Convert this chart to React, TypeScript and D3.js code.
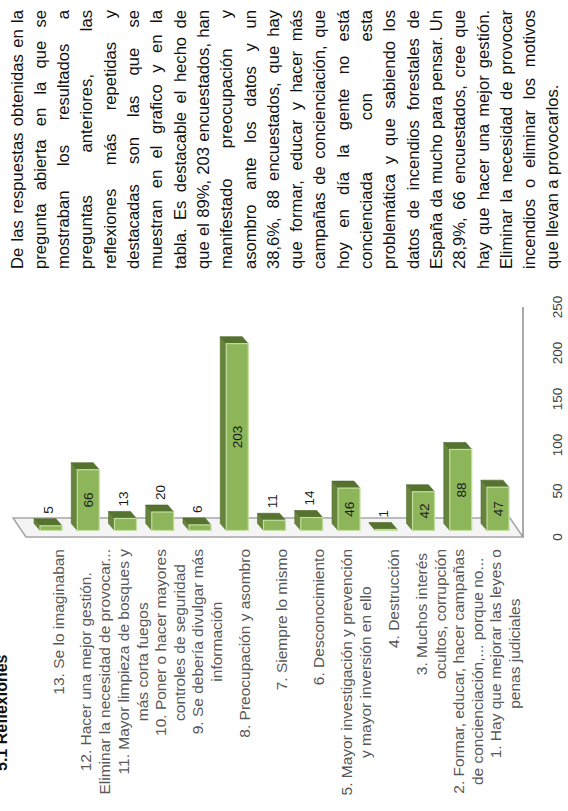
import React from "react";
import * as d3 from "d3";

// ---- data ----
const title = "5.1 Reflexiones";
const categoryLines: string[][] = [
  ["13. Se lo imaginaban"],
  ["12. Hacer una mejor gestión.", "Eliminar la necesidad de provocar..."],
  ["11. Mayor limpieza de bosques y", "más corta fuegos"],
  ["10. Poner o hacer mayores", "controles de seguridad"],
  ["9. Se debería divulgar más", "información"],
  ["8. Preocupación y asombro"],
  ["7. Siempre lo mismo"],
  ["6. Desconocimiento"],
  ["5. Mayor investigación y prevención", "y mayor inversión en ello"],
  ["4. Destrucción"],
  ["3. Muchos interés", "ocultos, corrupción"],
  ["2. Formar, educar, hacer campañas", "de concienciación,... porque no..."],
  ["1. Hay que mejorar las leyes o", "penas judiciales"],
];
const values = [5, 66, 13, 20, 6, 203, 11, 14, 46, 1, 42, 88, 47];
const ticks = [0, 50, 100, 150, 200, 250];
const paragraphLines = [
  "De las respuestas obtenidas en la",
  "pregunta abierta en la que se",
  "mostraban los resultados a",
  "preguntas anteriores, las",
  "reflexiones más repetidas y",
  "destacadas son las que se",
  "muestran en el grafico y en la",
  "tabla. Es destacable el hecho de",
  "que el 89%, 203 encuestados, han",
  "manifestado preocupación y",
  "asombro ante los datos y un",
  "38,6%, 88 encuestados, que hay",
  "que formar, educar y hacer más",
  "campañas de concienciación, que",
  "hoy en día la gente no está",
  "concienciada con esta",
  "problemática y que sabiendo los",
  "datos de incendios forestales de",
  "España da mucho para pensar. Un",
  "28,9%, 66 encuestados, cree que",
  "hay que hacer una mejor gestión.",
  "Eliminar la necesidad de provocar",
  "incendios o eliminar los motivos",
  "que llevan a provocarlos.",
];

const FONT = "'Liberation Sans', Arial, sans-serif";

let ctx: CanvasRenderingContext2D | null = null;
function measure(text: string, size: number, weight = "normal"): number {
  if (!ctx) ctx = document.createElement("canvas").getContext("2d");
  if (!ctx) return text.length * size * 0.5;
  ctx.font = `${weight} ${size}px 'Liberation Sans', Arial, sans-serif`;
  return ctx.measureText(text).width;
}

export default function App() {
  const W = 568;
  const H = 811; // raw page; content is drawn in a landscape frame and rotated
  const x = d3.scaleLinear().domain([0, 250]).range([274, 504]);
  const y = d3
    .scalePoint<number>()
    .domain(values.map((_, i) => i))
    .range([51, 498]);

  // 3D geometry
  const floorDepth = [19, -13];
  const barDepth = [7, -6];
  const barOffset = 6.6;
  const barH = 22;
  const floorTop = 26;
  const floorBottom = 523;

  // paragraph
  const pFs = 16.6;
  const pLeft = 542;
  const pWidth = 259;
  const pLine = 23.3;
  const pBase = 22.5;

  const labelFs = 15.5;
  const labelRight = 262;
  const labelLH = 19;

  const x0 = x(0);

  return (
    <svg
      width={W}
      height={H}
      style={{ position: "absolute", left: 0, top: 0, background: "#fff" }}
      fontFamily={FONT}
    >
      <rect width={W} height={H} fill="#fff" />
      <g transform={`translate(0,${H}) rotate(-90)`}>
        {/* title (cut at the top edge) */}
        <text x={40} y={7} fontSize={16} fontWeight="bold" fill="#111">
          {title}
        </text>

        {/* floor plane (left) */}
        <polygon
          points={[
            [x0, floorTop],
            [x0 + floorDepth[0], floorTop + floorDepth[1]],
            [x0 + floorDepth[0], floorBottom + floorDepth[1]],
            [x0, floorBottom],
          ]
            .map((p) => p.join(","))
            .join(" ")}
          fill="#f4f4f4"
          stroke="#a6a6a6"
          strokeWidth={1.5}
        />
        {/* side wall front edge (bottom) */}
        <line
          x1={x0}
          x2={x(250)}
          y1={floorBottom}
          y2={floorBottom}
          stroke="#8c8c8c"
          strokeWidth={1.5}
        />

        {/* bars */}
        {values.map((v, i) => {
          const c = y(i) as number;
          const xs = x0 + barOffset;
          const xe = xs + (x(v) - x0);
          const t = c - barH / 2;
          const b = c + barH / 2;
          const [dx, dy] = barDepth;
          const top = [
            [xs, t],
            [xe, t],
            [xe + dx, t + dy],
            [xs + dx, t + dy],
          ];
          const end = [
            [xe, t],
            [xe, b],
            [xe + dx, b + dy],
            [xe + dx, t + dy],
          ];
          const len = xe - xs;
          const inside = len > 30;
          return (
            <g key={i}>
              <polygon
                points={top.map((p) => p.join(",")).join(" ")}
                fill="#66843c"
                stroke="#55702f"
                strokeWidth={0.6}
              />
              <polygon
                points={end.map((p) => p.join(",")).join(" ")}
                fill="#56722f"
                stroke="#4b6428"
                strokeWidth={0.6}
              />
              <rect
                x={xs}
                y={t}
                width={Math.max(len, 0.5)}
                height={barH}
                fill="#8db65a"
                stroke="#c3dd9e"
                strokeWidth={1.2}
              />
              {inside ? (
                <text
                  x={(xs + xe) / 2}
                  y={c + 5}
                  fontSize={13.5}
                  textAnchor="middle"
                  fill="#1a1a1a"
                >
                  {v}
                </text>
              ) : (
                <text
                  x={xe + dx + 5}
                  y={c + 2}
                  fontSize={13.5}
                  textAnchor="start"
                  fill="#1a1a1a"
                >
                  {v}
                </text>
              )}
            </g>
          );
        })}

        {/* value axis tick labels */}
        {ticks.map((t) => (
          <text
            key={t}
            x={x(t)}
            y={562}
            fontSize={13.5}
            textAnchor="middle"
            fill="#404040"
          >
            {t}
          </text>
        ))}

        {/* category labels */}
        {categoryLines.map((lines, i) => {
          const c = (y(i) as number) + 7;
          const widths = lines.map((l) => measure(l, labelFs));
          const bw = Math.max(...widths);
          const cx = labelRight - bw / 2;
          const first = c - ((lines.length - 1) * labelLH) / 2 + 5.5;
          return (
            <g key={i}>
              {lines.map((l, j) => (
                <text
                  key={j}
                  x={cx}
                  y={first + j * labelLH}
                  fontSize={labelFs}
                  textAnchor="middle"
                  fill="#585858"
                >
                  {l}
                </text>
              ))}
            </g>
          );
        })}

        {/* justified paragraph */}
        {paragraphLines.map((line, i) => {
          const words = line.split(" ");
          const ws = words.map((w) => measure(w, pFs));
          const total = ws.reduce((a, b) => a + b, 0);
          const last = i === paragraphLines.length - 1;
          const gap = last || words.length < 2
            ? measure(" ", pFs)
            : (pWidth - total) / (words.length - 1);
          let cur = pLeft;
          const yy = pBase + i * pLine;
          return (
            <g key={i}>
              {words.map((w, j) => {
                const el = (
                  <text key={j} x={cur} y={yy} fontSize={pFs} fill="#111">
                    {w}
                  </text>
                );
                cur += ws[j] + gap;
                return el;
              })}
            </g>
          );
        })}
      </g>
    </svg>
  );
}
